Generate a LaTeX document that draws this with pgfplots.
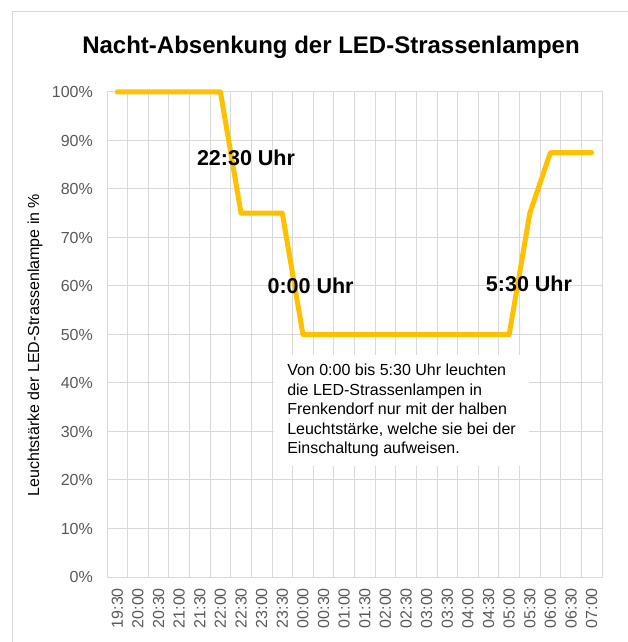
\documentclass[border=0pt]{standalone}
\usepackage{pgfplots}
\pgfplotsset{compat=1.18}
\usepackage{fontspec}
\setmainfont{Liberation Sans}
\definecolor{tickgray}{HTML}{595959}
\definecolor{gridgray}{HTML}{D9D9D9}
\definecolor{linegold}{HTML}{FFC000}
\begin{document}
\begin{tikzpicture}
\useasboundingbox (0,0) rectangle (628bp,642bp);
\fill[white] (0,0) rectangle (628bp,642bp);
\draw[gridgray, line width=1bp] (12.5bp,0) -- (12.5bp,630bp) -- (628bp,630bp);
\node[font=\fontsize{24bp}{28bp}\selectfont\bfseries] at (331bp,595bp) {Nacht-Absenkung der LED-Strassenlampen};
\node[font=\fontsize{16bp}{19bp}\selectfont, rotate=90] at (35bp,297bp) {Leuchtstärke der LED-Strassenlampe in \%};
\begin{axis}[
  at={(107bp,65bp)}, anchor=south west, scale only axis,
  width=495bp, height=485bp,
  xmin=-0.5, xmax=23.5, ymin=0, ymax=100,
  xtick={0,...,23},
  xticklabels={19:30,20:00,20:30,21:00,21:30,22:00,22:30,23:00,23:30,00:00,00:30,01:00,01:30,02:00,02:30,03:00,03:30,04:00,04:30,05:00,05:30,06:00,06:30,07:00},
  ytick={0,10,...,100},
  yticklabels={0\%,10\%,20\%,30\%,40\%,50\%,60\%,70\%,80\%,90\%,100\%},
  minor xtick={-0.5,0.5,...,23.5},
  ymajorgrids, xminorgrids,
  major grid style={gridgray, line width=1bp},
  minor grid style={gridgray, line width=1bp},
  axis line style={gridgray, line width=1bp},
  major tick length=0pt, minor tick length=0pt,
  x tick label style={rotate=90, anchor=east, inner sep=0pt, font=\fontsize{16bp}{19bp}\selectfont, text=tickgray},
  y tick label style={anchor=east, inner sep=0pt, font=\fontsize{16bp}{19bp}\selectfont, text=tickgray},
  xticklabel shift=11bp,
  yticklabel shift=14bp,
  clip=false,
]
\addplot[color=linegold, line width=5bp, line cap=round, line join=round] coordinates {
(0,100) (1,100) (2,100) (3,100) (4,100) (5,100)
(6,75) (7,75) (8,75)
(9,50) (10,50) (11,50) (12,50) (13,50) (14,50) (15,50) (16,50) (17,50) (18,50) (19,50)
(20,75) (21,87.5) (22,87.5) (23,87.5)
};
\node[font=\fontsize{21.5bp}{25bp}\selectfont\bfseries] at (axis cs:6.24,86.4) {22:30 Uhr};
\node[font=\fontsize{21.5bp}{25bp}\selectfont\bfseries] at (axis cs:9.37,60) {0:00 Uhr};
\node[font=\fontsize{21.5bp}{25bp}\selectfont\bfseries] at (axis cs:19.96,60.4) {5:30 Uhr};
\node[anchor=north west, fill=white, inner xsep=13bp, inner ysep=9bp, align=left,
      font=\fontsize{16bp}{19.5bp}\selectfont] at (axis cs:7.6,45.8)
  {Von 0:00 bis 5:30 Uhr leuchten\\die LED-Strassenlampen in\\Frenkendorf nur mit der halben\\Leuchtstärke, welche sie bei der\\Einschaltung aufweisen.};
\end{axis}
\end{tikzpicture}
\end{document}
